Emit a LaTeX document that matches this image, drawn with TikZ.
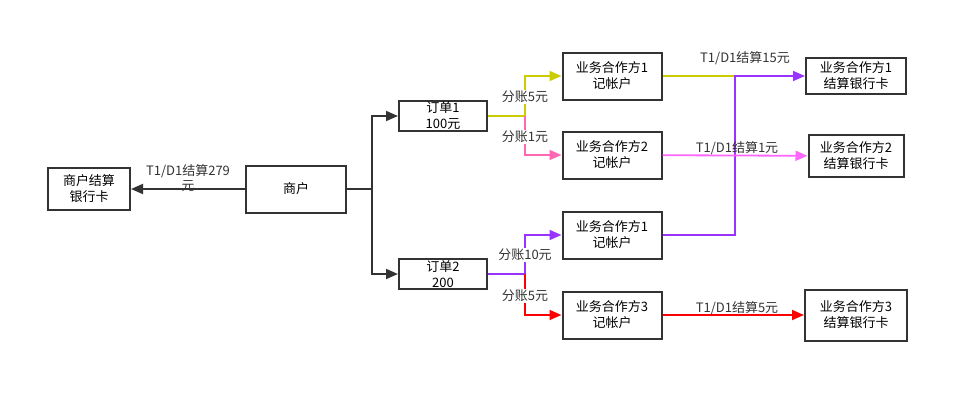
\documentclass[tikz,border=0pt]{standalone}
\usepackage{fontspec}
\setmainfont{Noto Sans CJK SC}
\usetikzlibrary{positioning, arrows.meta}
\definecolor{dark}{HTML}{333333}
\definecolor{olive}{HTML}{CCCC00}
\definecolor{pinkish}{HTML}{FF66B3}
\definecolor{magentish}{HTML}{FF66FF}
\definecolor{violet}{HTML}{9933FF}
\definecolor{redish}{HTML}{FF0000}
\tikzset{
    x=1pt, y=-1pt, % Pixel-like units
    box/.style={draw=dark, line width=2pt, fill=white, align=center, inner sep=0pt,
                font=\fontsize{13}{16}\selectfont}, % Styling for boxes
    acct/.style={box, minimum width=99pt, minimum height=47pt}, % Partner accounts
    lbl/.style={font=\fontsize{13}{15}\selectfont, text=dark, align=center, inner sep=1pt}, % Edge labels
    link/.style={line width=1.8pt}, % Connector lines
    arr/.style={link, -{Triangle[length=12pt, width=10pt]}}, % Nice arrowheads
}

\begin{document}
\begin{tikzpicture}
    \useasboundingbox (0,0) rectangle (970,402);
    % Merchant
    \node[box, minimum width=100pt, minimum height=47pt] (m) at (296,189) {商户};
    \node[box, minimum width=82pt, minimum height=42pt] (bankM) at (89,189) {商户结算\\银行卡};
    % Orders
    \node[box, minimum width=88pt, minimum height=30pt] (o1) at (443,116) {订单1\\100元};
    \node[box, minimum width=88pt, minimum height=30pt] (o2) at (443,274) {订单2\\200};
    % Partner accounts
    \node[acct] (p1) at (612,76) {业务合作方1\\记帐户};
    \node[acct] (p2) at (612,155) {业务合作方2\\记帐户};
    \node[acct] (p4) at (612,235) {业务合作方1\\记帐户};
    \node[acct] (p3) at (612,315) {业务合作方3\\记帐户};
    % Partner bank cards
    \node[box, minimum width=100pt, minimum height=36pt] (b1) at (856,76) {业务合作方1\\结算银行卡};
    \node[box, minimum width=95pt, minimum height=42pt] (b2) at (856,156) {业务合作方2\\结算银行卡};
    \node[box, minimum width=102pt, minimum height=51pt] (b3) at (856,315) {业务合作方3\\结算银行卡};

    % Split points
    \coordinate (forkM) at (372,189);
    \coordinate (s1) at (525,116);
    \coordinate (s2) at (525,274);
    \coordinate (j1) at (735,76);

    \draw[arr, dark] (m) -- (bankM)
        node[midway, lbl, yshift=11pt] {T1/D1结算279\\元};
    \draw[link, dark] (m) -- (forkM);
    \draw[arr, dark] (forkM) |- (o1);
    \draw[arr, dark] (forkM) |- (o2);

    % Order 1 split
    \draw[arr, olive] (o1) -- (s1) |- (p1);
    \draw[arr, pinkish] (s1) |- (p2);
    \node[lbl, fill=white] at (525,97) {分账5元};
    \node[lbl, fill=white] at (525,137) {分账1元};

    % Order 2 split
    \draw[arr, violet] (o2) -- (s2) |- (p4);
    \draw[arr, redish] (s2) |- (p3);
    \node[lbl, fill=white] at (525,255) {分账10元};
    \node[lbl, fill=white] at (525,296) {分账5元};

    % Settlement
    \draw[link, olive] (p1) -- (j1);
    \draw[arr, violet] (p4) -| (j1) -- (b1);
    \node[lbl] at (745,58) {T1/D1结算15元};
    \draw[arr, magentish] (p2) -- (b2);
    \node[lbl] at (737,148) {T1/D1结算1元};
    \draw[arr, redish] (p3) -- (b3);
    \node[lbl] at (737,308) {T1/D1结算5元};
\end{tikzpicture}
\end{document}
